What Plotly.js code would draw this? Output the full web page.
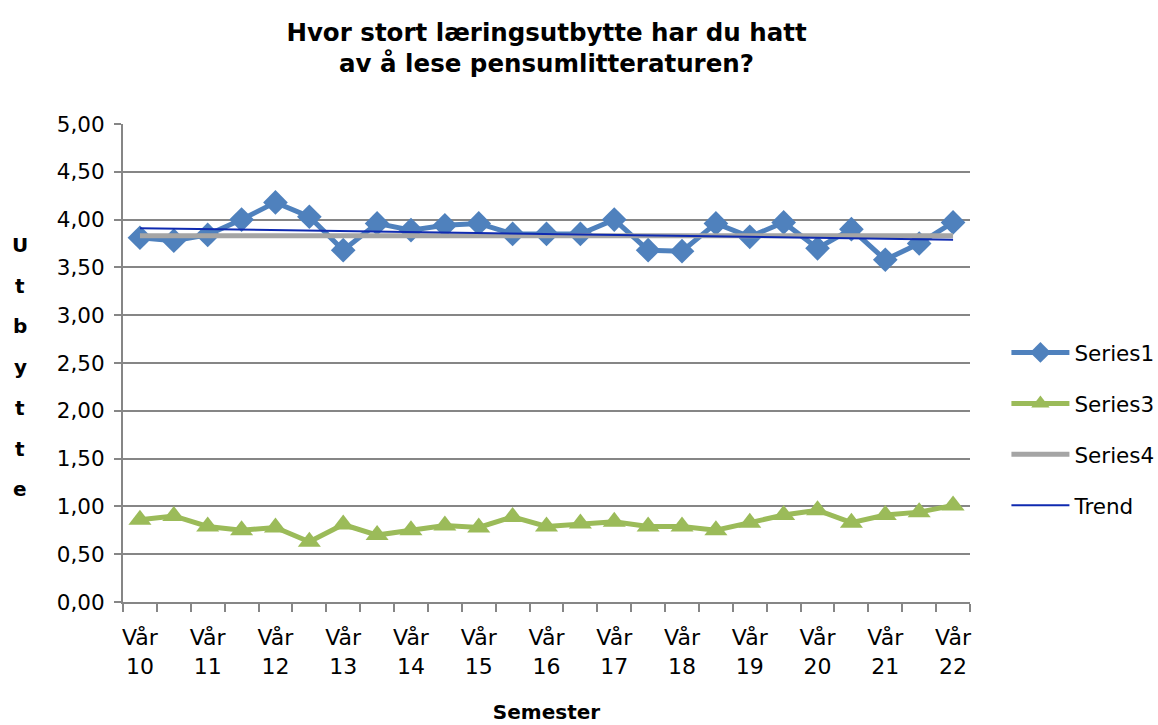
<!DOCTYPE html>
<html>
<head>
<meta charset="utf-8">
<script src="https://cdn.plot.ly/plotly-3.0.1.min.js"></script>
<style>html,body{margin:0;padding:0;background:#fff;}#chart{width:1158px;height:725px;}</style>
</head>
<body>
<div id="chart"></div>
<script>
// Categories: spring (Vår) and autumn (Høst) semesters
const semesters = [
  "Vår 10","Høst 10","Vår 11","Høst 11","Vår 12","Høst 12","Vår 13","Høst 13",
  "Vår 14","Høst 14","Vår 15","Høst 15","Vår 16","Høst 16","Vår 17","Høst 17",
  "Vår 18","Høst 18","Vår 19","Høst 19","Vår 20","Høst 20","Vår 21","Høst 21","Vår 22"
];
const tickLabels = [
  "Vår<br>10","","Vår<br>11","","Vår<br>12","","Vår<br>13","",
  "Vår<br>14","","Vår<br>15","","Vår<br>16","","Vår<br>17","",
  "Vår<br>18","","Vår<br>19","","Vår<br>20","","Vår<br>21","","Vår<br>22"
];
const series1 = [3.81,3.78,3.84,4.00,4.18,4.03,3.68,3.96,3.89,3.94,3.96,3.85,3.85,
                 3.85,4.00,3.68,3.67,3.96,3.82,3.97,3.70,3.90,3.58,3.75,3.97];
const series3 = [0.86,0.90,0.79,0.75,0.78,0.63,0.81,0.70,0.75,0.80,0.78,0.89,0.79,
                 0.82,0.84,0.79,0.79,0.75,0.83,0.91,0.96,0.83,0.91,0.94,1.01];
const series4 = [3.83,3.83,3.83,3.83,3.83,3.83,3.83,3.83,3.83,3.83,3.83,3.83,3.83,
                 3.83,3.83,3.83,3.83,3.83,3.83,3.83,3.83,3.83,3.83,3.83,3.83];
const trendEnds = [3.91, 3.79];
const yTitleLetters = ["U","t","b","y","t","t","e"];

const FONT = "DejaVu Sans";
const traces = [
  {x: semesters, y: series1, name: "Series1", type: "scatter", mode: "lines+markers",
   line: {color: "#4F81BD", width: 5}, marker: {symbol: "diamond", size: 19, color: "#4F81BD"},
   legendgroup: "a"},
  {x: semesters, y: series3, name: "Series3", type: "scatter", mode: "lines+markers",
   line: {color: "#9BBB59", width: 5}, marker: {symbol: "triangle-up", size: 20, color: "#9BBB59"},
   legendgroup: "b"},
  {x: semesters, y: series4, name: "Series4", type: "scatter", mode: "lines",
   line: {color: "#A5A5A5", width: 5}, legendgroup: "c"},
  {x: [semesters[0], semesters[semesters.length-1]], y: trendEnds, name: "Trend", type: "scatter", mode: "lines",
   line: {color: "#0F2AB0", width: 2}, legendgroup: "d"}
];

const annotations = yTitleLetters.map((ch, i) => ({
  text: "<b>" + ch + "</b>", xref: "paper", yref: "paper",
  x: (20 - 123) / 847, y: (602 - (245 + i * 40.7)) / 478,
  showarrow: false, xanchor: "center", yanchor: "middle",
  font: {family: FONT, size: 20, color: "#000"}
}));

const layout = {
  width: 1158, height: 725,
  margin: {l: 123, r: 188, t: 124, b: 123, autoexpand: false},
  paper_bgcolor: "#fff", plot_bgcolor: "#fff",
  separators: ", ",
  font: {family: FONT, size: 21, color: "#000"},
  title: {text: "<b>Hvor stort læringsutbytte har du hatt<br>av å lese pensumlitteraturen?</b>",
          font: {family: FONT, size: 24.5, color: "#000"}, x: 0.5, xanchor: "center", xref: "paper",
          y: 0.944, yanchor: "top"},
  xaxis: {
    type: "category", tickmode: "array", tickvals: semesters, ticktext: tickLabels,
    tickson: "boundaries", ticks: "outside", ticklen: 8, tickwidth: 2, tickcolor: "#868686",
    showline: true, linecolor: "#868686", linewidth: 2, showgrid: false, zeroline: false,
    tickangle: 0, range: [-0.5, semesters.length - 0.5], ticklabelstandoff: 15,
    tickfont: {family: FONT, size: 22, color: "#000"},
    title: {text: "<b>Semester</b>", font: {family: FONT, size: 20, color: "#000"}, standoff: 27}
  },
  yaxis: {
    range: [0, 5], dtick: 0.5, tick0: 0, tickformat: ".2f",
    ticks: "outside", ticklen: 7, tickwidth: 2, tickcolor: "#868686",
    showline: true, linecolor: "#868686", linewidth: 2,
    showgrid: true, gridcolor: "#868686", gridwidth: 2, zeroline: false,
    tickfont: {family: FONT, size: 21.5, color: "#000"}, ticklabelstandoff: 5
  },
  legend: {x: 1.043, xanchor: "left", y: 0.362, yanchor: "middle", traceorder: "grouped",
           tracegroupgap: 20, itemwidth: 58, font: {family: FONT, size: 21.5, color: "#000"},
           bgcolor: "rgba(0,0,0,0)"},
  annotations: annotations,
  showlegend: true
};

Plotly.newPlot("chart", traces, layout, {displayModeBar: false, staticPlot: true});
</script>
</body>
</html>
